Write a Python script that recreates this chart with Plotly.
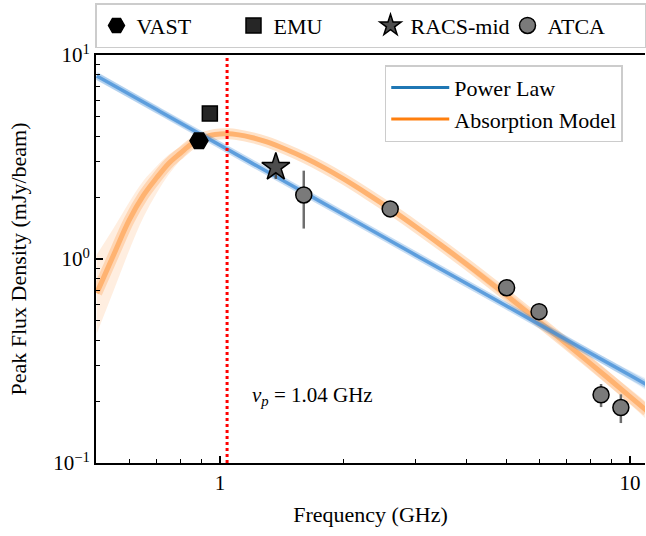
import plotly.graph_objects as go
import numpy as np

# ---------------- data ----------------
NU_P = 1.04  # GHz, turnover frequency

vast_freq = [0.888]
vast_flux = [3.80]
vast_err = [0.10]

emu_freq = [0.944]
emu_flux = [5.17]
emu_err = [0.10]

racs_freq = [1.3675]
racs_flux = [2.82]
racs_err = [0.35]

atca_freq = [1.6, 2.6, 5.0, 6.0, 8.5, 9.5]
atca_flux = [2.06, 1.76, 0.723, 0.552, 0.216, 0.187]
atca_err = [0.65, 0.15, 0.03, 0.03, 0.028, 0.03]

# power-law fit band
pl_freq = [0.5, 0.7, 1.0, 1.5, 2.0, 3.0, 5.0, 7.0, 10.0, 11.0]
pl_mid = [7.89, 5.40, 3.61, 2.285, 1.652, 1.045, 0.588, 0.402, 0.269, 0.2414]
pl_lo = [7.50, 5.20, 3.52, 2.25, 1.635, 1.03, 0.575, 0.388, 0.255, 0.226]
pl_hi = [8.30, 5.60, 3.70, 2.32, 1.670, 1.06, 0.602, 0.417, 0.284, 0.258]

# absorption-model fit band
ab_freq = [0.50, 0.55, 0.60, 0.65, 0.70, 0.75, 0.80, 0.85, 0.90, 0.95, 1.00, 1.05,
           1.10, 1.20, 1.30, 1.45, 1.60, 1.80, 2.00, 2.30, 2.60, 3.00, 3.50, 4.00,
           4.50, 5.00, 6.00, 7.00, 8.00, 9.00, 10.0, 11.0]
ab_mid = [0.68, 1.05, 1.55, 2.05, 2.50, 2.95, 3.30, 3.65, 3.90, 4.04, 4.10, 4.11,
          4.07, 3.93, 3.75, 3.44, 3.15, 2.79, 2.47, 2.07, 1.76, 1.44, 1.15, 0.94,
          0.783, 0.663, 0.494, 0.384, 0.308, 0.253, 0.2115, 0.180]
ab_lo = [0.43, 0.70, 1.10, 1.60, 2.10, 2.60, 3.05, 3.45, 3.75, 3.93, 4.00, 4.01,
         3.97, 3.83, 3.65, 3.35, 3.06, 2.71, 2.40, 2.01, 1.70, 1.39, 1.105, 0.90,
         0.745, 0.628, 0.465, 0.36, 0.287, 0.234, 0.194, 0.163]
ab_hi = [1.05, 1.42, 1.90, 2.42, 2.85, 3.25, 3.55, 3.85, 4.05, 4.16, 4.21, 4.22,
         4.18, 4.04, 3.86, 3.54, 3.24, 2.88, 2.55, 2.14, 1.82, 1.49, 1.195, 0.98,
         0.82, 0.698, 0.523, 0.41, 0.331, 0.274, 0.231, 0.198]

X_RANGE = [0.498, 10.88]
Y_RANGE = [0.1, 10.0]

FONT = "Liberation Serif, Times New Roman, serif"
ORANGE = "255,127,14"
BLUE = "64,140,215"

fig = go.Figure()


def band(freq, lo, mid, hi, rgb, fill_a, wide_w, wide_a, core_w, core_a):
    fig.add_trace(go.Scatter(x=freq, y=lo, mode="lines", line=dict(width=0, shape="spline"),
                             hoverinfo="skip", showlegend=False))
    fig.add_trace(go.Scatter(x=freq, y=hi, mode="lines", line=dict(width=0, shape="spline"),
                             fill="tonexty", fillcolor=f"rgba({rgb},{fill_a})",
                             hoverinfo="skip", showlegend=False))
    fig.add_trace(go.Scatter(x=freq, y=mid, mode="lines",
                             line=dict(width=wide_w, color=f"rgba({rgb},{wide_a})", shape="spline"),
                             hoverinfo="skip", showlegend=False))
    fig.add_trace(go.Scatter(x=freq, y=mid, mode="lines",
                             line=dict(width=core_w, color=f"rgba({rgb},{core_a})", shape="spline"),
                             hoverinfo="skip", showlegend=False))


band(ab_freq, ab_lo, ab_mid, ab_hi, ORANGE, 0.13, 11, 0.22, 5, 0.40)
band(pl_freq, pl_lo, pl_mid, pl_hi, BLUE, 0.14, 7, 0.30, 3.5, 0.75)

# vertical turnover line
fig.add_shape(type="line", xref="x", yref="paper", x0=NU_P, x1=NU_P, y0=0, y1=1,
              line=dict(color="red", width=3, dash="dot"))


def pts(x, y, e, name, symbol, color, size, ecol):
    fig.add_trace(go.Scatter(
        x=x, y=y, mode="markers", name=name, legend="legend",
        marker=dict(symbol=symbol, size=size, color=color,
                    line=dict(color="black", width=1.5)),
        error_y=dict(type="data", array=e, color=ecol, thickness=2.5, width=0)))


pts(vast_freq, vast_flux, vast_err, "VAST", "hexagon2", "black", 18, "black")
pts(emu_freq, emu_flux, emu_err, "EMU", "square", "#262626", 15, "#262626")
pts(racs_freq, racs_flux, racs_err, "RACS-mid", "star", "#4d4d4d", 21, "#4d4d4d")
pts(atca_freq, atca_flux, atca_err, "ATCA", "circle", "#7a7a7a", 16, "#6e6e6e")

# legend entries for the model lines
fig.add_trace(go.Scatter(x=[None], y=[None], mode="lines", name="Power Law",
                         line=dict(color="#1f77b4", width=3), legend="legend2"))
fig.add_trace(go.Scatter(x=[None], y=[None], mode="lines", name="Absorption Model",
                         line=dict(color="#ff7f0e", width=3), legend="legend2"))

fig.add_annotation(x=np.log10(1.18), y=np.log10(0.212), xref="x", yref="y",
                   text="<i>ν</i><sub><i>p</i></sub> = 1.04 GHz", showarrow=False,
                   xanchor="left", yanchor="middle",
                   font=dict(size=21, family=FONT, color="black"))

fig.update_layout(
    width=646, height=536,
    margin=dict(l=96, r=0, t=55, b=73),
    plot_bgcolor="white", paper_bgcolor="white",
    font=dict(family=FONT, size=21, color="black"),
    xaxis=dict(type="log", range=[np.log10(X_RANGE[0]), np.log10(X_RANGE[1])],
               tickvals=[1, 10], ticktext=["1", "10"],
               tickfont=dict(family=FONT, size=21, color="black"),
               ticks="inside", ticklen=7, tickwidth=1.5, tickcolor="black",
               showline=True, linewidth=2, linecolor="black", mirror=True,
               showgrid=False, zeroline=False,
               minor=dict(tickvals=[0.6, 0.7, 0.8, 0.9, 2, 3, 4, 5, 6, 7, 8, 9],
                          ticks="inside", ticklen=4, tickwidth=1.2, tickcolor="black",
                          showgrid=False),
               title=dict(text="Frequency (GHz)", standoff=12,
                          font=dict(family=FONT, size=22, color="black"))),
    yaxis=dict(type="log", range=[np.log10(Y_RANGE[0]), np.log10(Y_RANGE[1])],
               tickvals=[0.1, 1, 10],
               ticktext=["10<sup>−1</sup>", "10<sup>0</sup>", "10<sup>1</sup>"],
               tickfont=dict(family=FONT, size=21, color="black"),
               ticks="inside", ticklen=7, tickwidth=1.5, tickcolor="black",
               showline=True, linewidth=2, linecolor="black",
               showgrid=False, zeroline=False,
               minor=dict(tickvals=[0.2, 0.3, 0.4, 0.5, 0.6, 0.7, 0.8, 0.9,
                                    2, 3, 4, 5, 6, 7, 8, 9],
                          ticks="inside", ticklen=4, tickwidth=1.2, tickcolor="black",
                          showgrid=False),
               title=dict(text="Peak Flux Density (mJy/beam)", standoff=20,
                          font=dict(family=FONT, size=22, color="black"))),
    legend=dict(orientation="h", x=0.5, xanchor="center", y=1.127, yanchor="top",
                bordercolor="#cccccc", borderwidth=1.5, bgcolor="white",
                traceorder="normal", entrywidth=92, entrywidthmode="pixels",
                font=dict(size=22, family=FONT, color="black")),
    legend2=dict(x=0.525, xanchor="left", y=0.975, yanchor="top",
                 bordercolor="#cccccc", borderwidth=1.5, bgcolor="white",
                 traceorder="normal", itemwidth=58,
                 font=dict(size=22, family=FONT, color="black")),
    showlegend=True,
)

fig.write_html("out.html")
